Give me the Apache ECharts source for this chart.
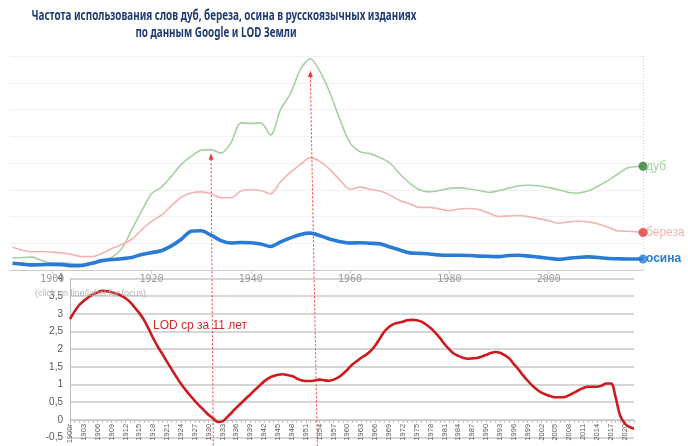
<!DOCTYPE html>
<html>
<head>
<meta charset="utf-8">
<script src="https://cdn.jsdelivr.net/npm/echarts@6/dist/echarts.min.js"></script>
<style>
  html, body { margin: 0; padding: 0; background: #fff; }
  #chart { width: 688px; height: 446px; }
</style>
</head>
<body>
<div id="chart"></div>
<script>
// Word frequency (Google Books, relative units) sampled every two years
const ngramYears = [1892,1894,1896,1898,1900,1902,1904,1906,1908,1910,
  1912,1914,1916,1918,1920,1922,1924,1926,1928,1930,
  1932,1934,1936,1938,1940,1942,1944,1946,1948,1950,
  1952,1954,1956,1958,1960,1962,1964,1966,1968,1970,
  1972,1974,1976,1978,1980,1982,1984,1986,1988,1990,
  1992,1994,1996,1998,2000,2002,2004,2006,2008,2010,
  2012,2014,2016,2018,2019];
const dubValues = [0.45,0.47,0.48,0.35,0.26,0.26,0.24,0.22,0.28,0.36,
  0.47,0.8,1.5,2.2,2.85,3.1,3.5,3.95,4.25,4.48,
  4.5,4.37,4.75,5.5,5.48,5.5,5.05,6.0,6.6,7.5,
  7.9,7.4,6.6,5.6,4.75,4.42,4.35,4.2,4.0,3.6,
  3.25,3.0,2.92,2.97,3.05,3.07,3.03,2.97,2.9,2.97,
  3.06,3.15,3.17,3.15,3.08,3.0,2.9,2.88,2.96,3.14,
  3.35,3.6,3.82,3.87,3.88];
const berezaValues = [0.85,0.74,0.68,0.69,0.67,0.64,0.58,0.5,0.5,0.62,
  0.8,0.95,1.15,1.5,1.82,2.05,2.4,2.72,2.88,2.92,
  2.85,2.7,2.7,2.95,3.0,2.97,2.85,3.3,3.65,3.95,
  4.2,4.05,3.75,3.35,3.02,3.1,3.02,2.95,2.8,2.6,
  2.48,2.34,2.34,2.28,2.22,2.28,2.3,2.25,2.12,2.0,
  2.02,2.04,1.99,1.92,1.84,1.75,1.8,1.82,1.8,1.72,
  1.6,1.46,1.45,1.42,1.4];
const osinaValues = [0.25,0.22,0.19,0.2,0.21,0.2,0.16,0.17,0.25,0.35,
  0.39,0.42,0.47,0.58,0.65,0.72,0.9,1.15,1.45,1.47,
  1.3,1.1,1.01,1.03,1.02,0.97,0.88,1.05,1.2,1.33,
  1.38,1.28,1.15,1.06,1.01,1.02,1.0,0.98,0.86,0.75,
  0.64,0.62,0.6,0.56,0.55,0.55,0.54,0.52,0.51,0.5,
  0.54,0.55,0.52,0.48,0.44,0.4,0.44,0.47,0.49,0.47,
  0.43,0.42,0.41,0.41,0.41];
const ngramTickYears = [1900, 1920, 1940, 1960, 1980, 2000];

// Length of day, 11-year running mean, one value per year 1900–2022
const lodYears = Array.from({ length: 123 }, (_, i) => String(1900 + i));
const lodLabels = lodYears.map((y, i) => (i === 0 ? y + 'г' : y));
const lodValues = [
  2.85,3.07,3.25,3.37,3.47,3.55,3.61,3.65,3.64,3.61,
  3.57,3.52,3.44,3.33,3.18,3.02,2.83,2.58,2.31,2.07,
  1.86,1.64,1.43,1.22,1.02,0.85,0.69,0.54,0.4,0.27,
  0.14,0.04,-0.06,-0.04,0.08,0.21,0.35,0.47,0.6,0.72,
  0.85,0.97,1.09,1.18,1.24,1.28,1.29,1.27,1.24,1.18,
  1.12,1.1,1.1,1.12,1.14,1.12,1.11,1.14,1.2,1.3,
  1.42,1.56,1.66,1.76,1.84,1.95,2.1,2.3,2.5,2.63,
  2.71,2.75,2.78,2.82,2.83,2.82,2.78,2.7,2.6,2.47,
  2.32,2.15,2.0,1.88,1.81,1.76,1.73,1.74,1.75,1.79,
  1.84,1.89,1.92,1.9,1.83,1.74,1.58,1.43,1.26,1.11,
  0.97,0.86,0.77,0.71,0.67,0.64,0.64,0.65,0.7,0.77,
  0.84,0.9,0.94,0.94,0.94,0.97,1.03,1.03,0.65,0.12,
  -0.1,-0.2,-0.25];

// Pointers linking word-frequency peaks to LOD years
const pointerTopYears = [1932, 1952];
const pointerTopValues = [4.25, 7.35];
const pointerLodYears = [1931, 1953.5];

const titleLines = [
  'Частота использования слов дуб, береза, осина в русскоязычных изданиях',
  'по данным Google и LOD Земли'
];

const words = [
  { name: 'дуб', values: dubValues, line: '#a8cfa4', dot: '#2f7d32', label: '#a8cfa4', width: 1.6, bold: 'normal' },
  { name: 'береза', values: berezaValues, line: '#f1b4b1', dot: '#e23a36', label: '#f1b4b1', width: 1.6, bold: 'normal' },
  { name: 'осина', values: osinaValues, line: '#2a7bd6', dot: '#2a7bd6', label: '#2a7bd6', width: 3.6, bold: 'bold' }
];

const chart = echarts.init(document.getElementById('chart'), null, { renderer: 'canvas' });

const series = [];
words.forEach(w => {
  series.push({
    name: w.name,
    type: 'line',
    xAxisIndex: 0,
    yAxisIndex: 0,
    smooth: 0.3,
    showSymbol: false,
    silent: true,
    z: w.name === 'осина' ? 4 : 3,
    lineStyle: { color: w.line, width: w.width },
    data: ngramYears.map((y, i) => [y, w.values[i]]),
    endLabel: {
      show: true,
      formatter: '{a}',
      color: w.label,
      fontSize: 12,
      fontWeight: w.bold,
      fontFamily: 'Liberation Sans',
      distance: 3
    }
  });
  const last = ngramYears.length - 1;
  series.push({
    type: 'scatter',
    xAxisIndex: 0,
    yAxisIndex: 0,
    symbol: 'circle',
    symbolSize: 9,
    silent: true,
    z: 5,
    itemStyle: { color: w.dot },
    data: [[ngramYears[last], w.values[last]]]
  });
});

// end-of-range hover line of the frequency panel
series[0].markLine = {
  silent: true,
  symbol: 'none',
  label: { show: false },
  lineStyle: { color: '#cfcfcf', type: [1, 2], width: 1 },
  data: [{ xAxis: ngramYears[ngramYears.length - 1] }]
};

series.push({
  name: 'LOD',
  type: 'line',
  xAxisIndex: 1,
  yAxisIndex: 1,
  smooth: 0.4,
  showSymbol: false,
  silent: true,
  z: 3,
  lineStyle: { color: '#cc1a1f', width: 2.6 },
  data: lodValues
});

chart.setOption({
  animation: false,
  backgroundColor: '#ffffff',
  grid: [
    { left: 10, right: 45, top: 56, bottom: 176, outerBoundsMode: 'none', containLabel: false },
    { left: 70, right: 54, top: 278.5, bottom: 8.4, outerBoundsMode: 'none', containLabel: false }
  ],
  xAxis: [
    {
      type: 'value',
      gridIndex: 0,
      min: 1891.5,
      max: 2019,
      splitLine: { show: false },
      axisLine: { show: true, onZero: false, lineStyle: { color: '#cccccc', width: 1 } },
      axisTick: { show: true, length: 4, customValues: ngramTickYears, lineStyle: { color: '#cccccc' } },
      axisLabel: {
        customValues: ngramTickYears,
        color: '#9a9a9a',
        fontSize: 10,
        fontFamily: 'DejaVu Sans Mono',
        margin: 4,
        formatter: v => String(v)
      }
    },
    {
      type: 'category',
      gridIndex: 1,
      data: lodLabels,
      boundaryGap: false,
      position: 'bottom',
      offset: 0,
      axisLine: { show: true, onZero: false, lineStyle: { color: '#bfbfbf', width: 1 } },
      axisTick: { show: true, interval: 0, length: 3, lineStyle: { color: '#bfbfbf' } },
      axisLabel: {
        interval: 2,
        rotate: 90,
        color: '#595959',
        fontSize: 7.5,
        fontFamily: 'Liberation Sans',
        margin: 4
      },
      splitLine: { show: false }
    }
  ],
  yAxis: [
    {
      type: 'value',
      gridIndex: 0,
      min: 0,
      max: 8,
      interval: 1,
      axisLine: { show: false },
      axisTick: { show: false },
      axisLabel: { show: false },
      splitLine: { show: true, lineStyle: { color: '#f1f1f1', width: 1 } }
    },
    {
      type: 'value',
      gridIndex: 1,
      min: -0.5,
      max: 4,
      interval: 0.5,
      axisLine: { show: true, lineStyle: { color: '#bfbfbf', width: 1 } },
      axisTick: { show: false },
      axisLabel: {
        color: '#595959',
        fontSize: 10,
        fontFamily: 'Liberation Sans',
        margin: 7,
        formatter: v => String(v).replace('.', ',')
      },
      splitLine: { show: true, lineStyle: { color: '#c9c9c9', width: 1.5 } }
    }
  ],
  series: series
});

// Lift the LOD category axis (line, ticks and labels) up to the zero level
const zeroY = chart.convertToPixel({ yAxisIndex: 1 }, 0);
const floorY = chart.convertToPixel({ yAxisIndex: 1 }, -0.5);
chart.setOption({ xAxis: [{}, { offset: -(floorY - zeroY) }] });

// Text and pointer overlays
function lodPixelX(year) {
  const i0 = Math.floor(year - 1900);
  const f = (year - 1900) - i0;
  const a = chart.convertToPixel({ xAxisIndex: 1 }, i0);
  const b = chart.convertToPixel({ xAxisIndex: 1 }, i0 + 1);
  return a + (b - a) * f;
}

// condensed heading: scale the bold face so the first line spans 385px
const titleFont = 'bold 14px "Noto Sans", sans-serif';
const measureCtx = document.createElement('canvas').getContext('2d');
measureCtx.font = titleFont;
const titleScale = 385 / measureCtx.measureText(titleLines[0]).width;

const graphics = [
  {
    type: 'text', silent: true,
    x: 224, y: 16, scaleX: titleScale,
    style: {
      text: titleLines[0], x: 0, y: 0, align: 'center', verticalAlign: 'middle',
      fill: '#1f3b73', font: titleFont
    }
  },
  {
    type: 'text', silent: true,
    x: 216, y: 33, scaleX: titleScale,
    style: {
      text: titleLines[1], x: 0, y: 0, align: 'center', verticalAlign: 'middle',
      fill: '#1f3b73', font: titleFont
    }
  },
  {
    type: 'text', silent: true, x: 35, y: 294, z: 10,
    style: {
      text: '(click on line/label for focus)', x: 0, y: 0, align: 'left', verticalAlign: 'middle',
      fill: '#b4b4b4', font: '9px "Liberation Sans", sans-serif'
    }
  },
  {
    type: 'text', silent: true, x: 153, y: 326, z: 10,
    style: {
      text: 'LOD ср за 11 лет', x: 0, y: 0, align: 'left', verticalAlign: 'middle',
      fill: '#d42a2a', font: '12px "Liberation Sans", sans-serif'
    }
  }
];

pointerTopYears.forEach((yr, k) => {
  const top = chart.convertToPixel({ gridIndex: 0 }, [yr, pointerTopValues[k]]);
  const bx = lodPixelX(pointerLodYears[k]);
  graphics.push({
    type: 'line', silent: true, z: 20,
    shape: { x1: top[0], y1: top[1] + 3, x2: bx, y2: 446 },
    style: { stroke: '#f03a3a', lineWidth: 1, lineDash: [2, 2] }
  });
  graphics.push({
    type: 'polygon', silent: true, z: 21,
    shape: { points: [[top[0], top[1] - 3], [top[0] - 2.5, top[1] + 3.5], [top[0] + 2.5, top[1] + 3.5]] },
    style: { fill: '#f03a3a' }
  });
});

chart.setOption({ graphic: graphics });
</script>
</body>
</html>
